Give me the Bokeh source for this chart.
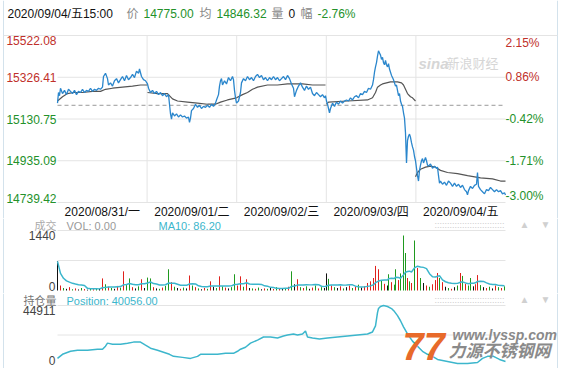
import numpy as np
import pandas as pd
from bokeh.plotting import figure
from bokeh.layouts import column
from bokeh.models import Range1d, Label, ColumnDataSource
from bokeh.embed import file_html
from bokeh.resources import INLINE

# ---------------- data ----------------
dates = ["2020/08/31/一", "2020/09/01/二", "2020/09/02/三", "2020/09/03/四", "2020/09/04/五"]
price_ticks = [15522.08, 15326.41, 15130.75, 14935.09, 14739.42]
pct_labels = ["2.15%", "0.86%", "-0.42%", "-1.71%", "-3.00%"]
prev_close = 15195
time_str = "2020/09/04/五15:00"
avg_price = 14846.32
last_vol = 0
vol_max = 1440
ma10_last = 86.20
pos_max = 44911
pos_last = 40056.00

price_t = [0, 1, 2, 3, 5, 7, 9, 11, 13, 15, 17, 19, 21, 23, 25, 27, 29, 31, 33, 35,
           37, 39, 41, 43, 45, 46, 48, 50, 51, 53, 55, 57, 59, 61, 63, 65, 67, 69, 71, 73,
           75, 77, 79, 81, 82, 84, 86, 88, 90,
           91, 93, 95, 97, 99, 101, 103, 105, 107, 109, 111, 112, 113, 114, 115, 117, 119, 121, 123, 125,
           127, 129, 131, 132, 133, 134, 136, 138, 140, 142, 144, 146, 148, 150, 152, 154, 156, 158, 159, 161,
           162, 163, 164, 165, 167, 169, 171, 173, 175, 176, 177, 178, 179,
           181, 183, 184, 186, 188, 190, 192, 194, 196, 198, 200, 202, 204, 206, 208, 210, 212, 214, 216, 218,
           220, 222, 224, 226, 228, 230, 232, 234, 236, 237, 239, 241, 243, 245, 247, 249, 251, 253, 255, 257,
           259, 261, 263, 265, 267, 268,
           269, 270, 271, 272, 273, 275, 277, 279, 281, 283, 285, 287, 289, 291, 293, 295, 297, 299, 301, 303,
           305, 307, 309, 311, 313, 315, 316, 317, 318, 319, 320, 321, 322, 323, 324, 325, 326, 327, 328, 329,
           330, 331, 332, 333, 334, 335, 336, 337, 338, 339, 340, 341, 342, 343, 344, 345, 346, 347, 348, 349,
           350, 351, 352, 353, 354, 355, 356, 357, 358,
           359, 360, 361, 362, 363, 364, 365, 366, 368, 369, 370, 371, 373, 375, 377, 379, 380, 381, 382, 383,
           385, 387, 389, 391, 393, 395, 397, 399, 401, 403, 405, 407, 409, 410, 411, 413, 415, 417, 419, 420,
           421, 423, 425, 427, 429, 431, 433, 435, 437, 439, 441, 443, 445, 447, 448]
price_v = [15205, 15255, 15240, 15275, 15250, 15265, 15245, 15270, 15260, 15250, 15265, 15245, 15260, 15255, 15270, 15255, 15265, 15260, 15275, 15260,
           15270, 15265, 15275, 15270, 15280, 15330, 15345, 15320, 15290, 15300, 15285, 15310, 15320, 15300, 15315, 15330, 15310, 15335, 15315, 15325,
           15340, 15325, 15355, 15345, 15365, 15330, 15315, 15310, 15295,
           15275, 15255, 15265, 15250, 15260, 15245, 15255, 15240, 15250, 15235, 15245, 15200, 15155, 15130, 15160, 15145, 15155, 15140, 15150, 15140,
           15145, 15135, 15140, 15115, 15135, 15170, 15180, 15200, 15185, 15195, 15180, 15190, 15185, 15195, 15185, 15200, 15190, 15205, 15220, 15245,
           15285, 15310, 15320, 15290, 15310, 15295, 15325, 15310, 15330, 15315, 15265, 15230, 15205,
           15215, 15255, 15300, 15320, 15310, 15330, 15315, 15325, 15310, 15330, 15340, 15325, 15335, 15315, 15325, 15310, 15325, 15315, 15330, 15315,
           15325, 15310, 15320, 15330, 15315, 15335, 15320, 15295, 15275, 15235, 15265, 15285, 15300, 15280, 15265, 15285, 15270, 15280, 15250, 15240,
           15255, 15245, 15235, 15245, 15230, 15240,
           15215, 15200, 15180, 15160, 15180, 15205, 15190, 15210, 15200, 15215, 15205, 15215, 15220, 15215, 15230, 15220, 15235, 15240, 15230, 15250,
           15245, 15260, 15255, 15275, 15270, 15290, 15315, 15350, 15375, 15395, 15425, 15450, 15440, 15430, 15410, 15420, 15395, 15385, 15405, 15385,
           15375, 15390, 15365, 15350, 15335, 15325, 15315, 15300, 15285, 15290, 15265, 15240, 15250, 15215, 15200, 15190, 15160, 15135, 15065, 14925,
           15030, 15050, 15060, 15045, 15020, 15000, 14985, 14955, 14935,
           14900, 14865, 14840, 14890, 14915, 14935, 14945, 14925, 14950, 14935, 14915, 14910, 14920, 14900, 14910, 14900, 14905, 14865, 14830, 14840,
           14825, 14835, 14820, 14840, 14830, 14815, 14830, 14815, 14825, 14810, 14820, 14800, 14790, 14775, 14795, 14815, 14805, 14820, 14825, 14880,
           14815, 14800, 14790, 14780, 14800, 14795, 14810, 14800, 14790, 14800, 14790, 14795, 14780, 14785, 14775]

avg_day_t = [[0, 5, 10, 16, 25, 35, 43, 48, 55, 65, 75, 83, 90],
             [90, 100, 110, 115, 120, 130, 140, 150, 158, 163, 170, 179],
             [179, 185, 190, 195, 200, 210, 220, 230, 245, 255, 268],
             [269, 271, 290, 310, 315, 318, 320, 323, 325, 333, 340, 344, 346, 348, 350, 353, 355, 358],
             [358, 360, 363, 368, 373, 378, 383, 390, 400, 410, 423, 435, 443, 448]]
avg_day_v = [[15215, 15235, 15250, 15255, 15255, 15260, 15260, 15270, 15275, 15280, 15285, 15290, 15290],
             [15255, 15250, 15250, 15225, 15215, 15210, 15205, 15200, 15200, 15210, 15220, 15230],
             [15230, 15245, 15255, 15270, 15280, 15290, 15290, 15295, 15295, 15290, 15290],
             [15200, 15210, 15215, 15220, 15230, 15255, 15280, 15290, 15295, 15305, 15305, 15300, 15290, 15270, 15250, 15235, 15230, 15215],
             [14860, 14880, 14895, 14905, 14910, 14905, 14890, 14880, 14875, 14865, 14855, 14850, 14840, 14840]]

vol_t = [0, 3, 6, 9, 12, 15, 18, 21, 24, 27,
         30, 33, 36, 39, 42, 45, 48, 51, 54, 57,
         60, 63, 66, 69, 72, 75, 78, 81, 84, 87,
         90, 93, 96, 99, 102, 105, 108, 111, 114, 117,
         120, 123, 126, 129, 132, 135, 138, 141, 144, 147,
         150, 153, 156, 159, 162, 165, 168, 171, 174, 177,
         180, 183, 186, 189, 192, 195, 198, 201, 204, 207,
         210, 213, 216, 219, 222, 225, 228, 231, 234, 237,
         240, 243, 246, 249, 252, 255, 258, 261, 264, 267,
         269, 271, 274, 277, 280, 283, 286, 289, 292, 295,
         298, 301, 304, 307, 310, 313, 316, 318, 321, 324,
         327, 330, 331, 334, 337, 338, 341, 343, 346, 348,
         350, 352, 354, 357, 360, 363, 366, 369, 372, 375,
         378, 380, 382, 385, 388, 391, 394, 397, 400, 403,
         405, 408, 411, 413, 416, 418, 420, 423, 426, 429,
         432, 435, 438, 441, 444, 447]
vol_v = [700, 120, 60, 40, 80, 30, 50, 25, 60, 35,
         20, 45, 30, 55, 40, 290, 150, 90, 60, 40,
         110, 70, 460, 130, 290, 80, 50, 100, 270, 60,
         310, 290, 80, 50, 40, 70, 110, 510, 200, 90,
         60, 40, 70, 50, 360, 120, 80, 50, 30, 60,
         40, 220, 90, 60, 340, 100, 70, 50, 80, 390,
         120, 340, 90, 270, 60, 50, 40, 70, 30, 50,
         40, 60, 35, 80, 50, 40, 60, 90, 460, 150,
         270, 80, 60, 100, 40, 70, 120, 50, 80, 60,
         410, 280, 120, 80, 60, 100, 50, 80, 120, 60,
         90, 140, 70, 100, 180, 220, 300, 590, 510, 250,
         160, 120, 390, 200, 140, 510, 250, 410, 1320, 900,
         300, 220, 180, 1200, 540, 300, 180, 120, 90, 150,
         250, 420, 300, 200, 90, 60, 40, 80, 120, 420,
         350, 160, 120, 300, 100, 150, 370, 130, 80, 60,
         90, 50, 120, 80, 60, 100]
vol_c = ["k", "r", "g", "k", "r", "g", "r", "k", "g", "r",
         "k", "g", "r", "g", "k", "r", "g", "r", "g", "k",
         "r", "g", "r", "g", "g", "r", "k", "g", "r", "k",
         "g", "g", "r", "k", "g", "r", "g", "g", "r", "g",
         "k", "r", "g", "k", "r", "g", "r", "g", "k", "r",
         "g", "r", "k", "g", "r", "g", "r", "k", "g", "g",
         "r", "r", "g", "r", "k", "g", "r", "g", "k", "r",
         "g", "k", "r", "g", "r", "k", "g", "r", "g", "k",
         "r", "g", "r", "g", "k", "r", "g", "r", "g", "k",
         "k", "g", "r", "g", "k", "r", "g", "k", "r", "g",
         "r", "g", "k", "r", "r", "r", "r", "r", "r", "g",
         "r", "k", "g", "r", "g", "g", "r", "g", "g", "g",
         "r", "g", "r", "g", "r", "g", "k", "r", "g", "r",
         "r", "r", "g", "r", "k", "g", "r", "k", "g", "r",
         "g", "r", "g", "g", "k", "r", "r", "g", "k", "r",
         "g", "k", "r", "g", "r", "g"]

pos_t = [0, 5, 13, 20, 30, 40, 45, 48, 50, 55, 63, 70, 76, 83, 88, 93, 100, 106, 112, 116,
         125, 133, 140, 143, 150, 160, 168, 176, 180, 183, 188, 193, 200, 206, 213, 220, 226, 230, 236, 240,
         245, 248, 250, 255, 262, 270, 280, 290, 300, 310, 315, 318, 320, 321, 323, 326, 330, 334, 337, 340,
         343, 346, 350, 355, 360, 365, 370, 375, 380, 390, 400, 410, 420, 425, 430, 436, 442, 448]
pos_v = [4650, 7750, 10070, 10840, 10840, 11620, 11620, 13940, 16260, 15490, 15490, 16260, 17040, 17040, 14710, 12390, 10840, 9290, 7750, 6200,
         5420, 4650, 6200, 7750, 7750, 7750, 8520, 8520, 10070, 11620, 13160, 16260, 18580, 20910, 20910, 20130, 21680, 22460, 23230, 22460,
         23230, 25550, 20910, 20130, 19360, 20130, 20910, 21680, 22460, 23230, 24780, 29420, 39490, 42590, 44140, 44911, 44140, 42590, 40270, 37170,
         33300, 28650, 23230, 17810, 13940, 10070, 7750, 6200, 3870, 2330, 780, 780, 1550, 4650, 6200, 6200, 3870, 2330]

assert len(price_t) == len(price_v)
assert len(vol_t) == len(vol_v) == len(vol_c)
assert len(pos_t) == len(pos_v)

# ---------------- style ----------------
RED = "#c0302a"
GREEN = "#23912a"
BLUE = "#2a86cc"
CYAN = "#3cb6cc"
GRAY = "#888888"
GRID = "#e4e4e4"
EDGE = "#d3e2ec"
FONT = "Liberation Sans, Noto Sans CJK SC"
W = 561
X0 = -57            # canvas left edge in time units (plot area starts at 57 px)
X_END = 448         # end of the time axis
day_len = X_END / len(dates)
vol_colors = {"r": "#e0201b", "g": "#1f9a1f", "k": "#111111"}


def make_fig(h, y0, y1):
    p = figure(width=W, height=h, x_range=Range1d(X0, X0 + W), y_range=Range1d(y0, y1),
               x_axis_type=None, y_axis_type=None, toolbar_location=None, output_backend="svg",
               min_border_left=0, min_border_right=0, min_border_top=0, min_border_bottom=0)
    p.outline_line_color = None
    p.background_fill_color = "white"
    p.border_fill_color = "white"
    # light frame border of the widget
    p.segment(x0=[X0 + 3, X0 + 557], y0=[y0, y0], x1=[X0 + 3, X0 + 557], y1=[y1, y1],
              line_color=EDGE, line_width=1)
    return p


def hlines(p, levels, x0=0, x1=X_END, **kw):
    p.segment(x0=[x0] * len(levels), y0=levels, x1=[x1] * len(levels), y1=levels, **kw)


def lab(p, x, y, text, color, align="left", baseline="middle", xo=0, yo=0,
        size="12px", style="normal"):
    p.add_layout(Label(x=x, y=y, text=text, text_color=color, text_align=align,
                       text_baseline=baseline, x_offset=xo, y_offset=yo,
                       text_font_size=size, text_font_style=style, text_font=FONT))


# ---------------- price panel (rows 0..218) ----------------
ppx1 = (price_ticks[0] - price_ticks[-1]) / 167.0
p1 = make_fig(218, price_ticks[-1] - 16 * ppx1, price_ticks[0] + 35 * ppx1)
hlines(p1, [price_ticks[0]], x0=X0 + 3, x1=X0 + 557, line_color=GRID, line_width=1)
hlines(p1, price_ticks[1:], line_color=GRID, line_width=1)
day_x = [k * day_len for k in range(1, len(dates))]
p1.segment(x0=day_x, y0=[price_ticks[-1]] * len(day_x), x1=day_x, y1=[price_ticks[0]] * len(day_x),
           line_color=GRID, line_width=1)
hlines(p1, [prev_close], line_color="#9a9a9a", line_width=1, line_dash="4 3")

# watermark
lab(p1, 361, 15390, "sina", "#d6d6d6", size="15px", style="bold italic")
lab(p1, 389, 15390, "新浪财经", "#d6d6d6", size="13px")

p1.multi_line(avg_day_t, avg_day_v, line_color="#555555", line_width=1.2)
p1.line(price_t, price_v, line_color=BLUE, line_width=1.3)

n = len(price_ticks)
for i, (v, pct) in enumerate(zip(price_ticks, pct_labels)):
    col = RED if v > prev_close else GREEN
    base = "top" if i == 0 else ("bottom" if i == n - 1 else "middle")
    lab(p1, 0, v, f"{v:.2f}", col, align="right", baseline=base, xo=-1)
    lab(p1, X_END, v, pct, col, align="left", baseline=base)

for k, d in enumerate(dates):
    lab(p1, (k + 0.5) * day_len, price_ticks[-1], d, "#111111", align="center", yo=-9)

last_price = price_v[-1]
chg = (last_price / prev_close - 1) * 100
header = [(time_str, -50, "#111111"), ("价", 69, GRAY), (f"{last_price:.2f}", 86, GREEN),
          ("均", 142, GRAY), (f"{avg_price:.2f}", 159, GREEN), ("量", 214, GRAY),
          (f"{last_vol}", 231, "#111111"), ("幅", 243, GRAY), (f"{chg:.2f}%", 260, GREEN)]
for txt, x, col in header:
    lab(p1, x, price_ticks[0], txt, col, yo=22)

# ---------------- volume panel (rows 218..293) ----------------
ppx2 = vol_max / 60.0
p2 = make_fig(75, -3 * ppx2, vol_max + 12 * ppx2)
hlines(p2, [vol_max, vol_max / 2], line_color=GRID, line_width=1)
vsrc = ColumnDataSource(dict(t=vol_t, v=vol_v, z=[0] * len(vol_t),
                             c=[vol_colors[c] for c in vol_c]))
p2.segment(x0="t", y0="z", x1="t", y1="v", line_color="c", line_width=1, source=vsrc)
ma10 = pd.Series(vol_v, dtype=float).rolling(10, min_periods=1).mean().to_numpy()
p2.line(vol_t, ma10, line_color=CYAN, line_width=1.5)

lab(p2, 0, vol_max, "成交", "#aaaaaa", align="right", xo=-1, yo=5, size="11px")
lab(p2, 9, vol_max, "VOL: 0.00", "#999999", yo=5, size="11px")
lab(p2, 101, vol_max, f"MA10: {ma10_last:.2f}", CYAN, yo=5, size="11px")
lab(p2, 0, vol_max, f"{vol_max}", "#444444", align="right", baseline="top", xo=-2)
lab(p2, 0, 0, "0", "#444444", align="right", baseline="bottom", xo=-2)
lab(p2, 377, vol_max, ":" * 28, "#cccccc", size="9px", yo=6)
lab(p2, 467, vol_max, "▲", "#d0d0d0", align="center", size="10px", yo=6)
lab(p2, 488, vol_max, "▼", "#d0d0d0", align="center", size="10px", yo=6)

# ---------------- position panel (rows 293..368) ----------------
ppx3 = pos_max / 59.0
p3 = make_fig(75, -4 * ppx3, pos_max + 12 * ppx3)
hlines(p3, [pos_max, pos_max / 2], line_color=GRID, line_width=1)
p3.line(pos_t, pos_v, line_color=CYAN, line_width=1.5)

lab(p3, 0, pos_max, "持仓量", "#777777", align="right", xo=-1, yo=5, size="11px")
lab(p3, 9, pos_max, f"Position: {pos_last:.2f}", CYAN, yo=5, size="11px")
lab(p3, 0, pos_max, f"{pos_max}", "#444444", align="right", baseline="top", xo=-2)
lab(p3, 0, 0, "0", "#444444", align="right", baseline="bottom", xo=-2)
lab(p3, 377, pos_max, ":" * 28, "#cccccc", size="9px", yo=6)
lab(p3, 467, pos_max, "▲", "#d0d0d0", align="center", size="10px", yo=6)
lab(p3, 488, pos_max, "▼", "#d0d0d0", align="center", size="10px", yo=6)

# lyssp watermark
lab(p3, 345, 13700, "77", "#e86a2a", size="38px", style="bold italic")
lab(p3, 395, 22075, "www.lyssp.com", "#8a8a8a", size="14px", style="bold italic")
lab(p3, 391, 9900, "力源不锈钢网", "#8a8a8a", size="17px", style="bold italic")

layout = column(p1, p2, p3)
open("out.html", "w").write(file_html(layout, INLINE))
